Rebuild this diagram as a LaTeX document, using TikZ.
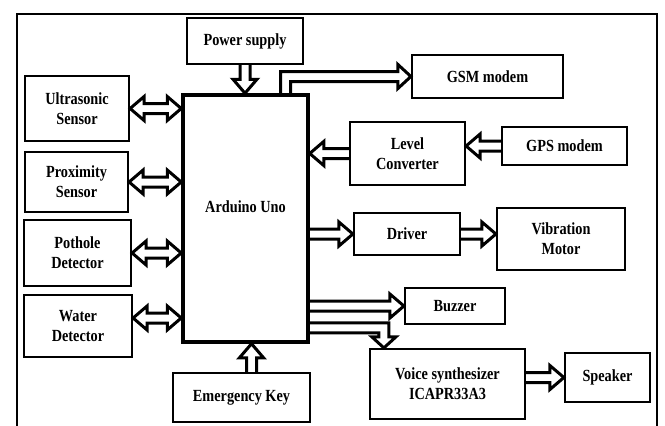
\documentclass[tikz,border=0pt]{standalone}
\usepackage{fontspec}
\newfontfamily\lbl{Liberation Serif}[FakeStretch=0.84]
\usetikzlibrary{calc}
\tikzset{
  box/.style={draw, line width=2.2pt, align=center, inner sep=0pt,
    font=\lbl\bfseries\fontsize{17}{20}\selectfont},
  mainbox/.style={draw, line width=3.5pt, inner sep=0pt},
  txt/.style={align=center, font=\lbl\bfseries\fontsize{17}{20}\selectfont},
  blk/.style={draw, line width=3pt, line join=miter, miter limit=6},
  frame/.style={draw, line width=1.5pt}
}
% single hollow arrow from #1 to tip #2
\newcommand\sarr[2]{\draw[blk] ($#1!5pt!90:#2$) -- ($#2!14pt!#1!5pt!-90:#1$) -- ($#2!14pt!#1!12pt!-90:#1$) -- #2 -- ($#2!14pt!#1!12pt!90:#1$) -- ($#2!14pt!#1!5pt!90:#1$) -- ($#1!5pt!-90:#2$);}
% double-headed hollow arrow between #1 and #2
\newcommand\darr[2]{\draw[blk] #1 -- ($#1!14pt!#2!12pt!90:#2$) -- ($#1!14pt!#2!5pt!90:#2$) -- ($#2!14pt!#1!5pt!-90:#1$) -- ($#2!14pt!#1!12pt!-90:#1$) -- #2 -- ($#2!14pt!#1!12pt!90:#1$) -- ($#2!14pt!#1!5pt!90:#1$) -- ($#1!14pt!#2!5pt!-90:#2$) -- ($#1!14pt!#2!12pt!-90:#2$) -- cycle;}
\begin{document}
\begin{tikzpicture}[x=1pt, y=-1pt]
\useasboundingbox (0,0) rectangle (665,426);
\fill[white] (0,0) rectangle (665,426);
% outer frame
\draw[frame] (17,430) -- (17,14) -- (657,14) -- (657,430);
% blocks
\node[box, minimum width=116, minimum height=46] (pow) at (245,41) {Power supply};
\node[mainbox, minimum width=125, minimum height=247] (ard) at (245.5,218.5) {};
\node[txt] (ardtxt) at (245.5,207) {Arduino Uno};
\node[box, minimum width=104, minimum height=65] (us) at (77,108.5) {Ultrasonic\\Sensor};
\node[box, minimum width=103, minimum height=60] (prox) at (76.5,182) {Proximity\\Sensor};
\node[box, minimum width=107, minimum height=66] (pot) at (77.5,253) {Pothole\\Detector};
\node[box, minimum width=108, minimum height=62] (wat) at (78,326) {Water\\Detector};
\node[box, minimum width=137, minimum height=49] (emg) at (241.5,397.5) {Emergency Key};
\node[box, minimum width=151, minimum height=43] (gsm) at (487.5,76.5) {GSM modem};
\node[box, minimum width=115, minimum height=63] (lvl) at (407.5,153.5) {Level\\Converter};
\node[box, minimum width=125, minimum height=38] (gps) at (564.5,146) {GPS modem};
\node[box, minimum width=106, minimum height=42] (drv) at (407,234) {Driver};
\node[box, minimum width=128, minimum height=62] (vib) at (561,239) {Vibration\\Motor};
\node[box, minimum width=100, minimum height=36] (buz) at (455,306) {Buzzer};
\node[box, minimum width=155, minimum height=70] (voi) at (447.5,384) {Voice synthesizer\\ICAPR33A3};
\node[box, minimum width=85, minimum height=49] (spk) at (607.5,377.5) {Speaker};
% helper coordinates
\coordinate (p1) at (pow.south |- ard.north);
\coordinate (u1) at (ard.west |- us.east);
\coordinate (x1) at (ard.west |- prox.east);
\coordinate (h1) at (ard.west |- pot.east);
\coordinate (w0) at ($(wat.east)+(0,-8)$);
\coordinate (w1) at (ard.west |- w0);
\coordinate (e1) at ($(emg.north)+(10,0)$);
\coordinate (e2) at (e1 |- ard.south);
\coordinate (l1) at (ard.east |- lvl.west);
\coordinate (g1) at (lvl.east |- gps.west);
\coordinate (d1) at (ard.east |- drv.west);
\coordinate (v1) at (vib.west |- drv.east);
\coordinate (b1) at (ard.east |- buz.west);
\coordinate (s1) at (voi.east |- spk.west);
\coordinate (vs) at ($(ard.south east)+(0,-16)$);
\coordinate (vt) at ($(voi.north west)+(15,0)$);
% connectors
\sarr{(pow.south)}{(p1)}
\darr{(us.east)}{(u1)}
\darr{(prox.east)}{(x1)}
\darr{(pot.east)}{(h1)}
\darr{(w0)}{(w1)}
\sarr{(e1)}{(e2)}
\sarr{(lvl.west)}{(l1)}
\sarr{(gps.west)}{(g1)}
\sarr{(d1)}{(drv.west)}
\sarr{(drv.east)}{(v1)}
\sarr{(b1)}{(buz.west)}
\sarr{(s1)}{(spk.west)}
% bent arrow to GSM modem
\draw[blk] let \p1=(ard.north), \p2=(gsm.west) in
  (\x1+35pt,\y1) -- (\x1+35pt,\y2+5pt) -- (\x2-13pt,\y2+5pt) -- (\x2-13pt,\y2+12pt)
  -- (\p2) -- (\x2-13pt,\y2-12pt) -- (\x2-13pt,\y2-5pt) -- (\x1+45pt,\y2-5pt) -- (\x1+45pt,\y1);
% bent arrow to voice synthesizer
\draw[blk] let \p1=(vs), \p2=(vt) in
  (\x1,\y1+5pt) -- (\x2+5pt,\y1+5pt) -- (\x2+5pt,\y2+11pt) -- (\x2+12pt,\y2+11pt)
  -- (\p2) -- (\x2-12pt,\y2+11pt) -- (\x2-5pt,\y2+11pt) -- (\x2-5pt,\y1-5pt) -- (\x1,\y1-5pt);
\end{tikzpicture}
\end{document}
